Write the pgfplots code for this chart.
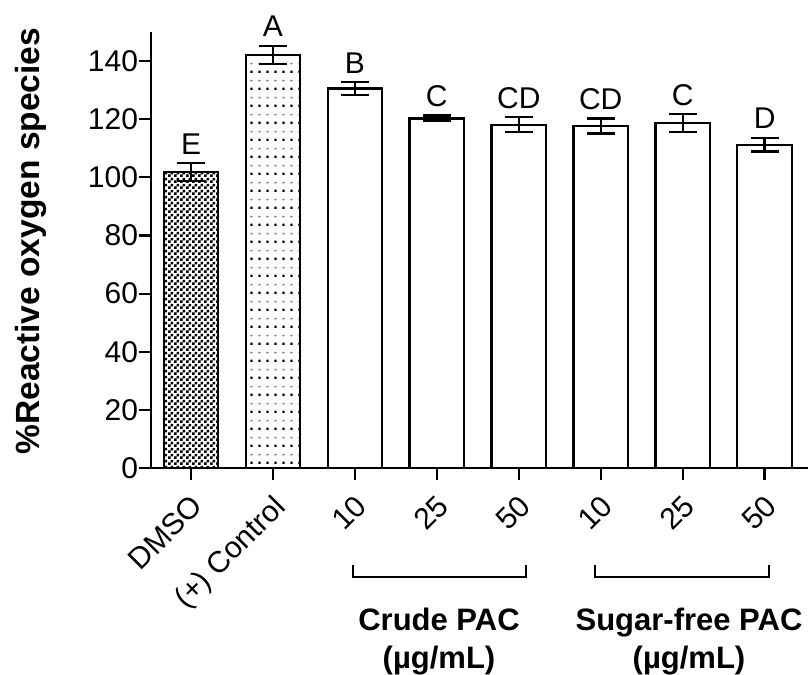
\documentclass[border=0pt]{standalone}
\usepackage{fontspec}
\setmainfont{Liberation Sans}
\usepackage{pgfplots}
\pgfplotsset{compat=1.18}
\usetikzlibrary{patterns}

% fine black/white checkerboard for the DMSO bar
\pgfdeclarepatternformonly{checks}{\pgfqpoint{0bp}{0bp}}{\pgfqpoint{6bp}{6bp}}{\pgfqpoint{6bp}{6bp}}{%
  \pgfpathrectangle{\pgfqpoint{0bp}{0bp}}{\pgfqpoint{3bp}{3bp}}%
  \pgfpathrectangle{\pgfqpoint{3bp}{3bp}}{\pgfqpoint{3bp}{3bp}}%
  \pgfusepath{fill}}

% sparse halftone dots for the positive control bar
\pgfdeclarepatterninherentlycolored{halftone}{\pgfqpoint{0bp}{0bp}}{\pgfqpoint{7.5bp}{17.4bp}}{\pgfqpoint{7.5bp}{17.4bp}}{%
  \pgfsetfillcolor{black}%
  \pgfpathrectangle{\pgfqpoint{2.6bp}{3.3bp}}{\pgfqpoint{2.2bp}{2.2bp}}%
  \pgfusepath{fill}%
  \pgfsetfillcolor{black!50}%
  \pgfpathrectangle{\pgfqpoint{2.4bp}{12.1bp}}{\pgfqpoint{2.6bp}{1.4bp}}%
  \pgfusepath{fill}}

\newcommand\ticksize{\fontsize{30bp}{36bp}\selectfont}
\newcommand\boldsize{\fontsize{31bp}{37bp}\selectfont\bfseries}

% x, mean, sd
\pgfplotstableread{
x  y     err
0  101.8 3.0
}\dmso
\pgfplotstableread{
x  y     err
1  142.0 3.1
}\positive
\pgfplotstableread{
x  y     err
2  130.5 2.2
3  120.2 1.0
4  118.0 2.6
5  117.6 2.6
6  118.6 3.0
7  111.2 2.4
}\pac
% top of each error bar with its significance letter
\pgfplotstableread{
x  top    grp
0  104.8  E
1  145.1  A
2  132.7  B
3  121.2  C
4  120.6  CD
5  120.2  CD
6  121.6  C
7  113.6  D
}\letters

\begin{document}
\begin{tikzpicture}
\path[use as bounding box] (-150.7bp,-206.8bp) rectangle (657.3bp,468.2bp);
\begin{axis}[
  at={(0,0)}, anchor=south west,
  scale only axis, width=657.3bp, height=436.5bp,
  xmin=-0.492, xmax=7.53, ymin=0, ymax=150,
  axis x line*=bottom, axis y line*=left,
  axis line style={line width=2.2bp, black},
  tick style={line width=2.2bp, black},
  tick align=outside, major tick length=12bp,
  ytick={0,20,...,140},
  xtick={0,...,7},
  xticklabels={DMSO,(+) Control,10,25,50,10,25,50},
  x tick label style={xshift=-1.5bp, yshift=-13bp, rotate=45, anchor=north east, inner sep=0pt, font=\ticksize},
  y tick label style={inner sep=0pt, xshift=-0.5bp, font=\ticksize},
  /pgf/number format/assume math mode=true,
  clip=false,
  bar width=0.665,
  every axis plot/.append style={line width=2.2bp},
  error bars/error bar style={line width=2.2bp, black},
  error bars/error mark options={rotate=90, line width=2.2bp, black, mark size=14bp},
]
\addplot[ybar, bar shift=0pt, draw=black, pattern=checks, pattern color=black,
  error bars/.cd, y dir=both, y explicit]
  table[x=x, y=y, y error=err] {\dmso};
\addplot[ybar, bar shift=0pt, draw=black, pattern=halftone,
  error bars/.cd, y dir=both, y explicit]
  table[x=x, y=y, y error=err] {\positive};
\addplot[ybar, bar shift=0pt, draw=black, fill=white,
  error bars/.cd, y dir=both, y explicit]
  table[x=x, y=y, y error=err] {\pac};
\addplot[draw=none, mark=none, nodes near coords, point meta=explicit symbolic,
  every node near coord/.append style={anchor=base, yshift=9bp, inner sep=0pt, font=\ticksize}]
  table[x=x, y=top, meta=grp] {\letters};
\end{axis}
% axis title
\node[rotate=90, anchor=base, font=\fontsize{33.5bp}{40bp}\selectfont\bfseries]
  at (-111.4bp,227bp) {\%Reactive oxygen species};
% group brackets under the concentration labels
\draw[line width=2.2bp] (202.6bp,-97bp) -- (202.6bp,-108.5bp) -- (375.3bp,-108.5bp) -- (375.3bp,-97bp);
\draw[line width=2.2bp] (444.3bp,-97bp) -- (444.3bp,-108.5bp) -- (618.3bp,-108.5bp) -- (618.3bp,-97bp);
\node[anchor=base, font=\boldsize] at (288.3bp,-161.8bp) {Crude PAC};
\node[anchor=base, font=\boldsize] at (288.3bp,-199.8bp) {(µg/mL)};
\node[anchor=base, font=\boldsize] at (538.3bp,-161.8bp) {Sugar-free PAC};
\node[anchor=base, font=\boldsize] at (538.3bp,-199.8bp) {(µg/mL)};
\end{tikzpicture}
\end{document}
